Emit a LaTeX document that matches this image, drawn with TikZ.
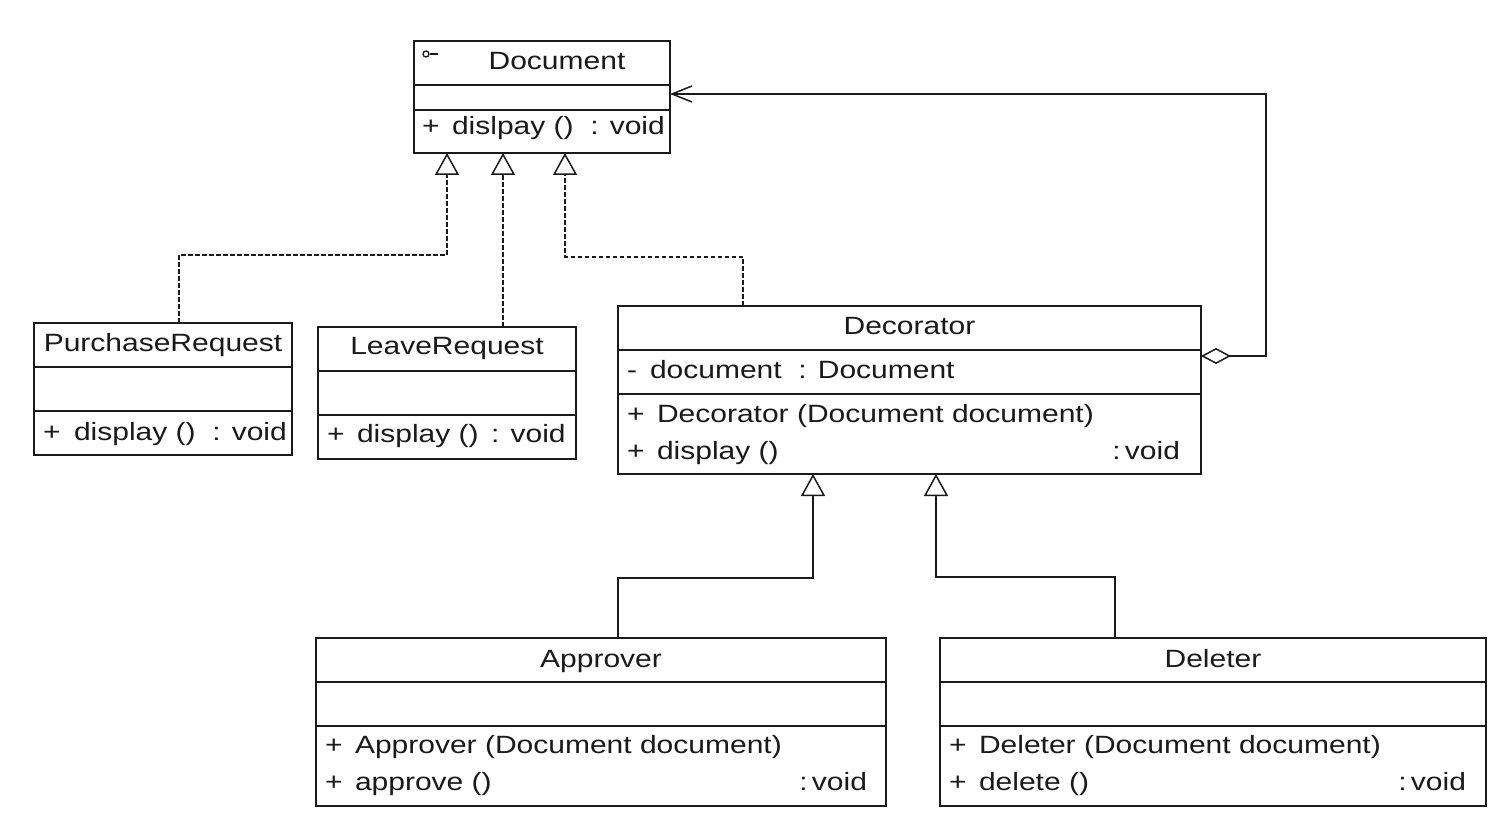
\documentclass[tikz,border=0pt]{standalone}
\usepackage{fontspec}
\setmainfont[FakeStretch=1.2]{Liberation Sans}
\usetikzlibrary{arrows.meta}
\definecolor{ink}{HTML}{1A1A1A}
\tikzset{
  box/.style={draw=ink, line width=1.5pt, inner sep=0pt, outer sep=0pt, anchor=north west},
  sep/.style={draw=ink, line width=1.5pt},
  txt/.style={inner sep=0pt, outer sep=0pt, text=ink, font=\fontsize{25}{28}\selectfont},
  gen/.style={draw=ink, line width=1.5pt, -{Triangle[open, length=22pt, width=24pt, line width=1.5pt]}},
  impl/.style={gen, dash pattern=on 4.5pt off 2.5pt},
  agg/.style={draw=ink, line width=1.5pt, {Diamond[open, length=30pt, width=16pt, line width=1.5pt]}-{Straight Barb[length=20pt, width=16pt, line width=1.5pt]}}
}
\begin{document}
\begin{tikzpicture}[x=1pt,y=-1pt]
\useasboundingbox[fill=white] (0,0) rectangle (1505,826);

% ---------- Document ----------
\node[box, minimum width=256pt, minimum height=112pt] (doc) at (414,41) {};
\draw[sep] ([yshift=-44pt]doc.north west) -- ([yshift=-44pt]doc.north east);
\draw[sep] ([yshift=-69pt]doc.north west) -- ([yshift=-69pt]doc.north east);
\node[draw=ink, line width=1.3pt, circle, inner sep=0pt, minimum size=6pt] (icon) at (426,54) {};
\draw[ink, line width=1.3pt] (icon.east) -- ++(8,0);
\node[txt, anchor=base] (docn) at (557,70) {Document};
\node[txt, anchor=base west] (docp) at (422,135) {+};
\node[txt, anchor=base west] (docm) at (452,135) {dislpay ()\,\, : void};

% ---------- PurchaseRequest ----------
\node[box, minimum width=258pt, minimum height=132pt] (pr) at (34,323) {};
\draw[sep] ([yshift=-44pt]pr.north west) -- ([yshift=-44pt]pr.north east);
\draw[sep] ([yshift=-88pt]pr.north west) -- ([yshift=-88pt]pr.north east);
\node[txt, anchor=base] (prn) at (163,352) {PurchaseRequest};
\node[txt, anchor=base west] (prp) at (43,440) {+};
\node[txt, anchor=base west] (prm) at (74,440) {display ()\,\, : void};

% ---------- LeaveRequest ----------
\node[box, minimum width=258pt, minimum height=132pt] (lr) at (318,327) {};
\draw[sep] ([yshift=-44pt]lr.north west) -- ([yshift=-44pt]lr.north east);
\draw[sep] ([yshift=-88pt]lr.north west) -- ([yshift=-88pt]lr.north east);
\node[txt, anchor=base] (lrn) at (447,355) {LeaveRequest};
\node[txt, anchor=base west] (lrp) at (327,442) {+};
\node[txt, anchor=base west] (lrm) at (357,442) {display ()\, : void};

% ---------- Decorator ----------
\node[box, minimum width=583pt, minimum height=168pt] (dec) at (618,306) {};
\draw[sep] ([yshift=-44pt]dec.north west) -- ([yshift=-44pt]dec.north east);
\draw[sep] ([yshift=-88pt]dec.north west) -- ([yshift=-88pt]dec.north east);
\node[txt, anchor=base] (decn) at (909.5,335) {Decorator};
\node[txt, anchor=base west] (deca) at (627,378) {-};
\node[txt, anchor=base west] (decat) at (650,378) {document\,\, : Document};
\node[txt, anchor=base west] (decp1) at (627,422) {+};
\node[txt, anchor=base west] (decm1) at (657,422) {Decorator (Document document)};
\node[txt, anchor=base west] (decp2) at (627,459) {+};
\node[txt, anchor=base west] (decm2) at (657,459) {display ()};
\node[txt, anchor=base east] (decv2) at (1180,459) {:\,void};

% ---------- Approver ----------
\node[box, minimum width=570pt, minimum height=168pt] (ap) at (316,638) {};
\draw[sep] ([yshift=-44pt]ap.north west) -- ([yshift=-44pt]ap.north east);
\draw[sep] ([yshift=-88pt]ap.north west) -- ([yshift=-88pt]ap.north east);
\node[txt, anchor=base] (apn) at (601,667) {Approver};
\node[txt, anchor=base west] (app1) at (325,753) {+};
\node[txt, anchor=base west] (apm1) at (355,753) {Approver (Document document)};
\node[txt, anchor=base west] (app2) at (325,790) {+};
\node[txt, anchor=base west] (apm2) at (355,790) {approve ()};
\node[txt, anchor=base east] (apv2) at (867,790) {:\,void};

% ---------- Deleter ----------
\node[box, minimum width=546pt, minimum height=168pt] (del) at (940,638) {};
\draw[sep] ([yshift=-44pt]del.north west) -- ([yshift=-44pt]del.north east);
\draw[sep] ([yshift=-88pt]del.north west) -- ([yshift=-88pt]del.north east);
\node[txt, anchor=base] (deln) at (1213,667) {Deleter};
\node[txt, anchor=base west] (delp1) at (949,753) {+};
\node[txt, anchor=base west] (delm1) at (979,753) {Deleter (Document document)};
\node[txt, anchor=base west] (delp2) at (949,790) {+};
\node[txt, anchor=base west] (delm2) at (979,790) {delete ()};
\node[txt, anchor=base east] (delv2) at (1466,790) {:\,void};

% ---------- Connectors ----------
\draw[impl] ([xshift=16pt]pr.north) -- ++(0,-68) -| ([xshift=-95pt]doc.south);
\draw[impl] ([xshift=56pt]lr.north) -- ([xshift=-39pt]doc.south);
\draw[impl] ([xshift=-166.5pt]dec.north) -- ++(0,-49) -| ([xshift=23pt]doc.south);
\draw[gen] ([xshift=17pt]ap.north) -- ++(0,-60) -| ([xshift=-96.5pt]dec.south);
\draw[gen] ([xshift=-98pt]del.north) -- ++(0,-61) -| ([xshift=26.5pt]dec.south);
\draw[agg] ([yshift=-50pt]dec.north east) -- ++(65,0) |- ([yshift=-53pt]doc.north east);
\end{tikzpicture}
\end{document}
